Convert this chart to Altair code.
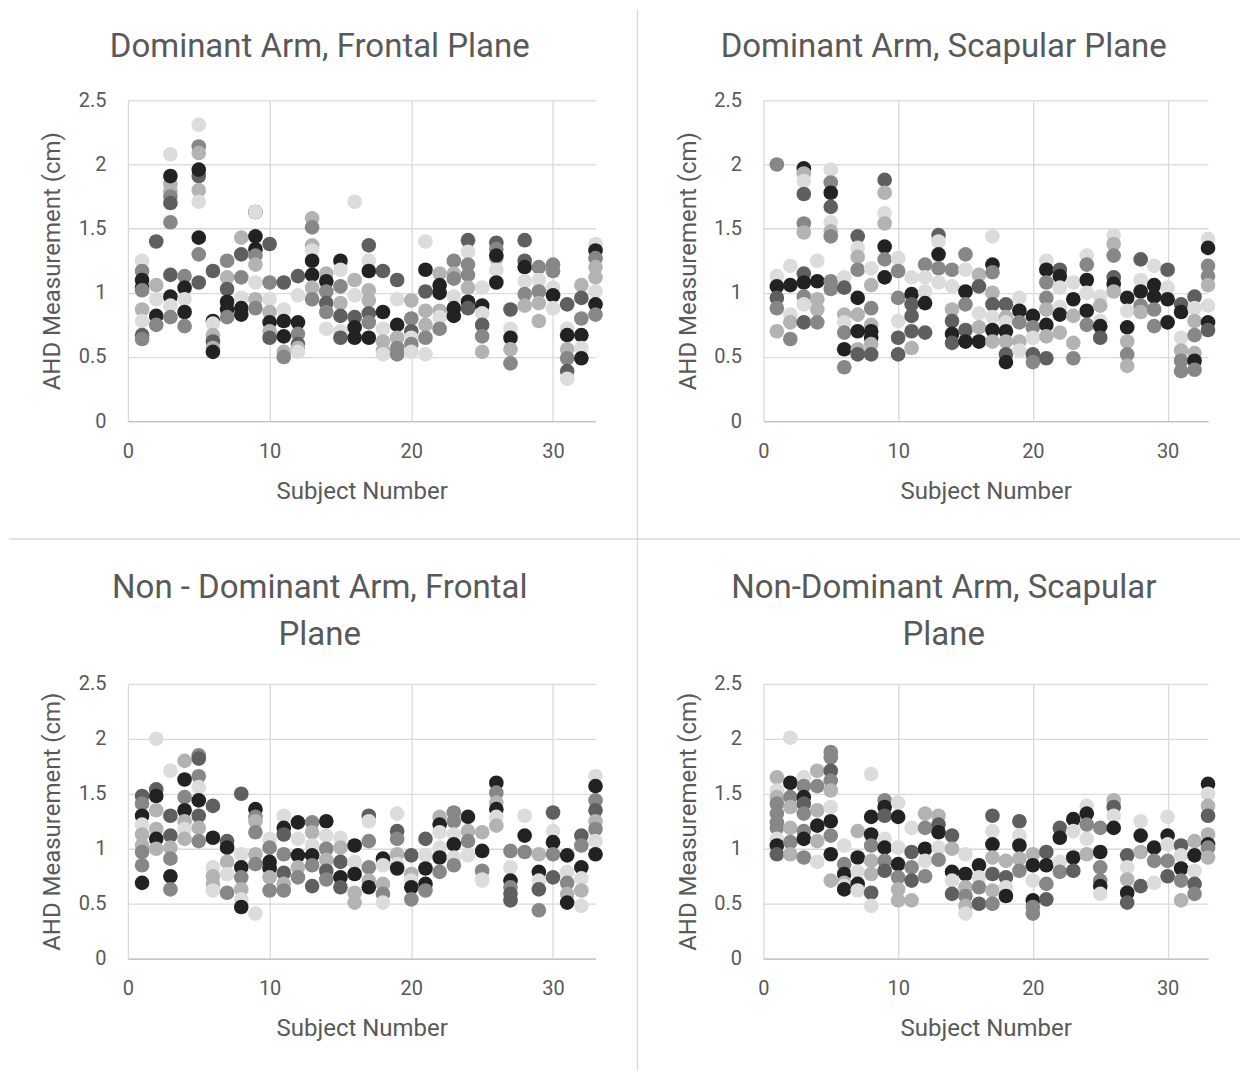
import altair as alt
import pandas as pd

# Each string = one subject (1..33); tokens are value + shade code
# shade codes: k=black, d=dark gray, g=gray, l=light gray, w=very light gray
DOM_FRONTAL = [
    "1.25w 1.17g 1.10k 1.04k 1.02g 0.87l 0.78w 0.67d 0.64g",
    "1.40d 1.06l 0.95w 0.82k 0.75g",
    "2.08w 1.85l 1.79l 1.75g 1.70d 1.91k 1.55g 1.14d 0.97k 0.90w 0.81g",
    "1.13g 1.04k 0.95w 0.85k 0.74g",
    "2.31w 2.14g 2.09l 1.91d 1.96k 1.80l 1.71w 1.43k 1.30g 1.08d",
    "1.17d 0.78k 0.76w 0.67l 0.62d 0.57l 0.54k",
    "1.25g 1.12l 1.03d 0.93k 0.87k 0.81g",
    "1.43l 1.30d 1.12g 0.96w 0.88k 0.83k",
    "1.63k 1.63w 1.44k 1.34k 1.29g 1.22l 1.08w 0.95l 0.88g",
    "1.38d 1.08g 0.95w 0.85l 0.77k 0.70l 0.65d",
    "1.08d 0.87w 0.78k 0.66k 0.54l 0.50g",
    "1.13d 0.98w 0.77k 0.68g 0.60d 0.57l 0.54w",
    "1.58l 1.51g 1.37l 1.33w 1.25k 1.14k 1.04l 0.95g",
    "1.15l 1.09k 1.01g 0.92d 0.85g 0.72w",
    "1.25k 1.18w 1.05g 0.92l 0.82d 0.70w 0.65d",
    "1.71w 1.10l 0.98w 0.81d 0.73k 0.65k",
    "1.37d 1.25w 1.17k 1.02l 0.94l 0.84d 0.77g 0.65k",
    "1.17d 0.85k 0.72w 0.62l 0.55l 0.52w",
    "1.10d 0.95w 0.75k 0.65l 0.57g 0.52g",
    "0.94l 0.80g 0.70d 0.65w 0.60g 0.54w",
    "1.40w 1.18k 1.01d 0.86l 0.75l 0.65g 0.52w",
    "1.15l 1.06k 1.00k 0.86l 0.81w 0.72g",
    "1.25g 1.15l 1.11g 0.97w 0.88k 0.82k",
    "1.41d 1.32w 1.22g 1.14g 1.04l 0.93k 0.88d",
    "1.04w 0.90k 0.84w 0.75d 0.66g 0.54l",
    "1.39d 1.34g 1.27l 1.29k 1.18w 1.08k",
    "0.87d 0.72w 0.65k 0.56l 0.45g",
    "1.41d 1.25d 1.20k 1.09w 0.99g 0.90l",
    "1.20g 1.10w 1.01g 0.92l 0.78l",
    "1.22g 1.17g 1.04w 0.98k 0.88w",
    "0.91d 0.72w 0.67k 0.56l 0.49g 0.39d 0.33w",
    "1.06l 0.96d 0.80g 0.67k 0.57w 0.49k",
    "1.38w 1.33k 1.27g 1.20l 1.12l 1.01w 0.91k 0.83g",
]

DOM_SCAPULAR = [
    "2.00g 1.13w 1.05k 0.96d 0.88g 0.70l",
    "1.21w 1.06k 0.83w 0.77l 0.64g",
    "1.97k 1.93l 1.87w 1.77d 1.54g 1.47l 1.15d 1.08k 0.97g 0.91w 0.77d",
    "1.25w 1.09k 0.95l 0.87l 0.77g",
    "1.96w 1.86g 1.78k 1.67d 1.55w 1.48l 1.44g 1.09g 1.03g",
    "1.12w 1.04d 0.83l 0.77w 0.69g 0.56k 0.42g",
    "1.44d 1.35w 1.28l 1.18g 0.96k 0.83l 0.70k 0.56l 0.52d",
    "1.19w 1.06l 0.88g 0.75l 0.70k 0.65k 0.60l 0.52d",
    "1.88d 1.78l 1.62w 1.54l 1.36k 1.26g 1.12k",
    "1.27w 1.17g 0.96g 0.78w 0.65d 0.52d",
    "1.12w 0.99k 0.91d 0.82d 0.70d 0.57l",
    "1.22g 1.12w 1.01w 0.92k 0.69d",
    "1.45d 1.40w 1.30k 1.19g 1.08w",
    "1.18g 1.05w 0.87l 0.78d 0.68k 0.61d",
    "1.30g 1.18w 1.01k 0.91g 0.71d 0.62k",
    "1.14l 1.05d 0.84w 0.73l 0.62k",
    "1.44w 1.22k 1.16g 1.00l 0.91d 0.81w 0.71k 0.62l",
    "0.91d 0.81l 0.77w 0.70k 0.62l 0.52d 0.46k",
    "0.96w 0.86k 0.77g 0.62l 0.55w",
    "0.82k 0.73g 0.65w 0.52d 0.46g",
    "1.25w 1.18k 1.08g 0.96g 0.87l 0.75k 0.66l 0.49d",
    "1.18d 1.13k 1.04w 0.89w 0.83k 0.69l",
    "1.08w 0.95k 0.82l 0.61l 0.49g",
    "1.29w 1.22g 1.10k 1.00w 0.86k 0.75g",
    "0.97w 0.90l 0.78w 0.74k 0.65d",
    "1.45w 1.38l 1.29g 1.12d 1.07k 1.01l",
    "0.96k 0.86w 0.73k 0.62l 0.52g 0.43l",
    "1.26d 1.10w 1.01k 0.90g 0.85l",
    "1.21w 1.06k 0.97k 0.87g 0.74g",
    "1.18d 1.04w 0.95k 0.77k",
    "0.91d 0.85k 0.65w 0.55l 0.47g 0.39g",
    "0.97d 0.88w 0.78l 0.67g 0.53l 0.47k 0.40g",
    "1.42w 1.35k 1.21g 1.13g 1.06l 0.90w 0.77k 0.71d",
]

NONDOM_FRONTAL = [
    "1.48d 1.41g 1.30k 1.22w 1.13l 1.03l 0.97g 0.85g 0.69k",
    "2.00w 1.54d 1.48k 1.35l 1.18l 1.09k 1.00l",
    "1.71w 1.30d 1.12d 1.01l 0.91g 0.75k 0.63g",
    "1.80l 1.63k 1.47g 1.35k 1.25l 1.18w 1.09l",
    "1.85g 1.82d 1.66g 1.56w 1.44k 1.30d 1.19l 1.07g",
    "1.39d 1.10k 0.83w 0.75l 0.68l 0.62w",
    "1.07d 1.01k 0.88l 0.77w 0.60g",
    "1.50d 0.95w 0.83k 0.74g 0.63l 0.54w 0.47k",
    "1.36k 1.29g 1.25l 1.15g 0.95l 0.86g 0.41w",
    "1.09w 1.01g 0.88k 0.82k 0.74l 0.62g",
    "1.30w 1.19k 1.13d 0.95g 0.78d 0.68l 0.62g",
    "1.24k 1.09w 0.94k 0.83l 0.74g",
    "1.24g 1.15l 1.03w 0.94k 0.85g 0.66d",
    "1.25k 1.12w 1.00g 0.90l 0.80d 0.72g",
    "1.10w 1.01l 0.88d 0.74k 0.65d",
    "1.03k 0.88w 0.77k 0.60l 0.51l",
    "1.30d 1.25w 1.07g 0.83g 0.71l 0.65k",
    "0.91k 0.85w 0.68l 0.59g 0.51w",
    "1.32w 1.16d 1.09g 0.95l 0.86w 0.82k",
    "0.94d 0.77l 0.71w 0.65k 0.54g",
    "1.09d 0.94w 0.82k 0.68k 0.62g",
    "1.29l 1.22k 1.15w 1.01w 0.92k 0.79g",
    "1.33g 1.25g 1.13w 1.04k 0.92w 0.85g",
    "1.29k 1.16l 1.07g 0.94w",
    "1.15l 0.98k 0.80g 0.72w 0.71w",
    "1.60k 1.51g 1.42l 1.36k 1.29w 1.21l",
    "0.98g 0.83w 0.71k 0.65g 0.59d 0.53d",
    "1.30w 1.12k 0.97g",
    "0.95l 0.79k 0.71w 0.63d 0.44g",
    "1.33d 1.16w 1.06k 0.95g 0.74d",
    "0.94k 0.79w 0.69g 0.59l 0.51k",
    "1.12d 1.03g 0.83k 0.73w 0.62l 0.48w",
    "1.66w 1.57k 1.44g 1.35d 1.25l 1.18g 1.07w 0.95k",
]

NONDOM_SCAPULAR = [
    "1.65l 1.53w 1.47l 1.41g 1.32g 1.24g 1.19g 1.09w 1.03k 0.95d",
    "2.01w 1.60k 1.47g 1.38l 1.19l 1.06g 0.95l",
    "1.65w 1.57g 1.47k 1.41d 1.32g 1.16g 1.09k 0.92g",
    "1.71l 1.57g 1.35l 1.21k 1.07l 0.88w",
    "1.88g 1.83g 1.71d 1.62g 1.53l 1.38w 1.25k 1.12g 0.95k 0.71l",
    "1.03w 0.86g 0.77k 0.69l 0.66w 0.63k",
    "1.16l 0.92k 0.79w 0.68k 0.62w",
    "1.68w 1.29k 1.13k 1.03g 0.89l 0.77l 0.60d 0.48w",
    "1.44g 1.38k 1.30d 1.09w 1.01k 0.89g 0.80d",
    "1.42w 1.29k 1.01w 0.86k 0.74g 0.63l 0.53l",
    "1.19w 0.97d 0.83g 0.71d 0.53l",
    "1.32l 1.19g 1.00k 0.89w 0.75g",
    "1.30l 1.22d 1.15k 1.01w 0.90g",
    "1.12d 1.00l 0.79k 0.71w 0.59d",
    "0.95w 0.77k 0.65l 0.57g 0.48l 0.41w",
    "0.85k 0.74w 0.65g 0.50d",
    "1.30d 1.16w 1.04k 0.92l 0.77d 0.62l 0.50g",
    "0.89l 0.74d 0.65w 0.57k",
    "1.25d 1.12w 1.03k 0.91l 0.80g",
    "0.95l 0.85k 0.71w 0.53k 0.47g 0.41g",
    "0.97d 0.85k 0.68g 0.54d",
    "1.19d 1.10k 0.88w 0.79g",
    "1.27k 1.16w 0.92k 0.80d",
    "1.39w 1.32k 1.22g 1.09w 0.95l",
    "1.19g 0.97k 0.83g 0.71g 0.66k 0.59w",
    "1.44l 1.38d 1.30w 1.19k",
    "0.94d 0.83w 0.72l 0.60k 0.51d",
    "1.25w 1.12k 0.97l 0.66d",
    "1.01k 0.89g 0.69w",
    "1.29w 1.12k 1.04w 0.89g 0.75d",
    "1.03d 0.94w 0.82k 0.71g 0.53l",
    "1.07l 0.94k 0.80w 0.68d 0.59g",
    "1.59k 1.50w 1.39l 1.30d 1.13l 1.04k 1.01g 0.92l",
]

TITLES = [
    ["Dominant Arm, Frontal Plane"],
    ["Dominant Arm, Scapular Plane"],
    ["Non - Dominant Arm, Frontal", "Plane"],
    ["Non-Dominant Arm, Scapular", "Plane"],
]

SHADE_CODES = ["k", "d", "g", "l", "w"]
SHADE_COLORS = ["#222222", "#5f5f5f", "#878787", "#b3b3b3", "#dcdcdc"]
X_TICKS = [0, 10, 20, 30]
Y_TICKS = [0, 0.5, 1, 1.5, 2, 2.5]

FONT = "Roboto"
TXT = "#595959"
ONE = pd.DataFrame({"a": [0]})


def to_frame(subjects):
    rows = []
    for i, s in enumerate(subjects):
        for tok in s.split():
            rows.append({"subject": i + 1, "ahd": float(tok[:-1]),
                         "shade": tok[-1], "k": len(rows)})
    return pd.DataFrame(rows)


def panel(subjects, title_lines, w, h, dividers=False):
    df = to_frame(subjects)
    pts = alt.Chart(df).mark_circle(size=215, opacity=1).encode(
        x=alt.X("subject:Q",
                scale=alt.Scale(domain=[0, 33], nice=False, zero=False),
                axis=alt.Axis(values=X_TICKS, format="d", title="Subject Number",
                              titleX=w / 2, titleY=70, titleBaseline="middle",
                              labelPadding=20, labelFlush=False, domain=True,
                              domainColor="#bfbfbf", domainWidth=1.3)),
        y=alt.Y("ahd:Q",
                scale=alt.Scale(domain=[0, 2.5], nice=False),
                axis=alt.Axis(values=Y_TICKS, format="~g", title="AHD Measurement (cm)",
                              titleX=-75, titleY=h / 2, titleBaseline="middle",
                              labelPadding=22, labelFlush=False, domain=False)),
        color=alt.Color("shade:N", scale=alt.Scale(domain=SHADE_CODES, range=SHADE_COLORS),
                        legend=None),
        order=alt.Order("k:Q"),
    )
    layers = [pts]
    # chart title drawn as text, centred on the chart-area (not the plot)
    n = len(title_lines)
    for i, line in enumerate(title_lines):
        base = -43 if n == 1 else -39 - 47 * (n - 1 - i)
        layers.append(
            alt.Chart(ONE).mark_text(
                font=FONT, fontSize=33, color=TXT, align="center", baseline="alphabetic"
            ).encode(x=alt.value(w / 2 - 42), y=alt.value(base), text=alt.value(line))
        )
    if dividers:
        layers.append(alt.Chart(ONE).mark_rule(color="#d9d9d9", strokeWidth=1.3).encode(
            x=alt.value(510), y=alt.value(-91), y2=alt.value(971)))
        layers.append(alt.Chart(ONE).mark_rule(color="#d9d9d9", strokeWidth=1.3).encode(
            y=alt.value(439), x=alt.value(-119), x2=alt.value(1113)))
    return alt.layer(*layers).properties(width=w, height=h)


p1 = panel(DOM_FRONTAL, TITLES[0], 468, 321, dividers=True)
p2 = panel(DOM_SCAPULAR, TITLES[1], 445, 321)
p3 = panel(NONDOM_FRONTAL, TITLES[2], 468, 275)
p4 = panel(NONDOM_SCAPULAR, TITLES[3], 445, 275)

chart = alt.concat(
    p1, p2, p3, p4, columns=2,
    spacing={"row": 263, "column": 168},
    bounds="flush",
).properties(padding=0, background="white").configure_view(
    strokeWidth=0
).configure_axis(
    labelFont=FONT, labelFontSize=20, labelColor=TXT,
    titleFont=FONT, titleFontSize=24, titleFontWeight="normal", titleColor=TXT,
    gridColor="#d9d9d9", gridWidth=1.3, ticks=False, tickSize=0,
)

chart.save("out.html", embed_options={"renderer": "svg", "actions": False})
